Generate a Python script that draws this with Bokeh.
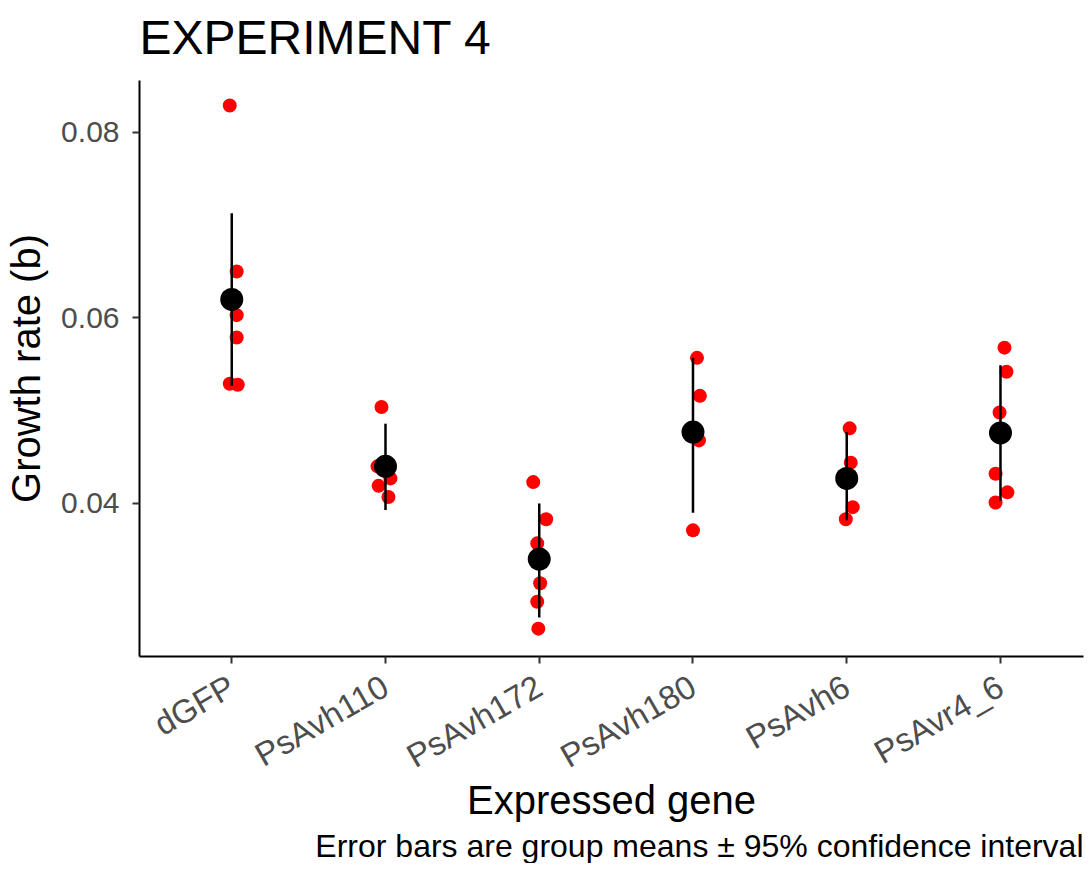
import math
from bokeh.plotting import figure
from bokeh.models import FixedTicker, Title, NumeralTickFormatter, Range1d, ColumnDataSource
from bokeh.embed import file_html
from bokeh.resources import INLINE

# ---------------- data ----------------
genes = ["dGFP", "PsAvh110", "PsAvh172", "PsAvh180", "PsAvh6", "PsAvr4_6"]

dGFP = [0.0829, 0.0650, 0.0603, 0.0579, 0.0529, 0.0528]
PsAvh110 = [0.0504, 0.0440, 0.0427, 0.0419, 0.0407]
PsAvh172 = [0.0423, 0.0383, 0.0357, 0.0314, 0.0294, 0.0265]
PsAvh180 = [0.0557, 0.0516, 0.0468, 0.0371]
PsAvh6 = [0.0481, 0.0444, 0.0396, 0.0383]
PsAvr4_6 = [0.0568, 0.0542, 0.0498, 0.0432, 0.0412, 0.0401]

# horizontal jitter of each observation (category units), as seen in the picture
jit_dGFP = [-0.013, 0.032, 0.032, 0.032, -0.013, 0.039]
jit_PsAvh110 = [-0.026, -0.052, 0.032, -0.045, 0.019]
jit_PsAvh172 = [-0.039, 0.045, -0.013, 0.006, -0.013, -0.006]
jit_PsAvh180 = [0.026, 0.045, 0.039, 0.0]
jit_PsAvh6 = [0.019, 0.026, 0.039, -0.006]
jit_PsAvr4_6 = [0.026, 0.039, -0.006, -0.032, 0.045, -0.032]

means = [0.0620, 0.0440, 0.0340, 0.0477, 0.0427, 0.0476]
ci_low = [0.0527, 0.0393, 0.0277, 0.0390, 0.0382, 0.0403]
ci_high = [0.0713, 0.0486, 0.0400, 0.0557, 0.0477, 0.0549]

y_ticks = [0.04, 0.06, 0.08]

# ---------------- build sources ----------------
groups = [dGFP, PsAvh110, PsAvh172, PsAvh180, PsAvh6, PsAvr4_6]
jitters = [jit_dGFP, jit_PsAvh110, jit_PsAvh172, jit_PsAvh180, jit_PsAvh6, jit_PsAvr4_6]
px, py = [], []
for i, (vals, jit) in enumerate(zip(groups, jitters)):
    for v, j in zip(vals, jit):
        px.append(i + j)
        py.append(v)
pts = ColumnDataSource(dict(x=px, y=py))
idx = list(range(len(genes)))
summ = ColumnDataSource(dict(x=idx, m=means, lo=ci_low, hi=ci_high))

FONT = "Liberation Sans"

p = figure(width=1084, height=863, output_backend="svg", toolbar_location=None,
           x_range=Range1d(-0.6, len(genes) - 0.46), y_range=Range1d(0.0235, 0.0856),
           min_border_left=139, min_border_right=1, min_border_top=80, min_border_bottom=207,
           title_location=None)

# spacer between the frame and the title (keeps the title a bit higher)
spacer = Title(text=" ", text_font_size="1px", standoff=14)
p.add_layout(spacer, "above")
main_title = Title(text="EXPERIMENT 4", align="left", text_font=FONT, text_font_size="48px",
                   text_font_style="normal", text_color="black", standoff=0)
p.add_layout(main_title, "above")

p.xgrid.visible = False
p.ygrid.visible = False
p.outline_line_color = None
p.background_fill_color = "white"
p.border_fill_color = "white"

# observations
p.scatter("x", "y", source=pts, size=14, color="red", line_color=None)
# confidence intervals
p.segment(x0="x", y0="lo", x1="x", y1="hi", source=summ, line_color="black", line_width=2.5)
# means
p.scatter("x", "m", source=summ, size=23, color="black", line_color=None)

for ax in (p.xaxis[0], p.yaxis[0]):
    ax.axis_line_color = "black"
    ax.axis_line_width = 2
    ax.major_tick_line_color = "#333333"
    ax.major_tick_line_width = 2
    ax.major_tick_in = 0
    ax.major_tick_out = 7
    ax.minor_tick_line_color = None
    ax.major_label_text_font = FONT
    ax.major_label_text_font_size = "30px"
    ax.major_label_text_color = "#4d4d4d"
    ax.axis_label_text_font = FONT
    ax.axis_label_text_font_size = "40px"
    ax.axis_label_text_font_style = "normal"
    ax.axis_label_text_color = "black"

p.xaxis.ticker = FixedTicker(ticks=idx)
p.xaxis.major_label_overrides = {i: g for i, g in enumerate(genes)}
p.xaxis.major_label_orientation = math.pi / 6
p.xaxis.major_label_text_font_size = "33px"
p.xaxis.major_label_standoff = 20
p.xaxis.axis_label = "Expressed gene"
p.xaxis.axis_label_standoff = -15

p.yaxis.ticker = FixedTicker(ticks=y_ticks)
p.yaxis.formatter = NumeralTickFormatter(format="0.00")
p.yaxis.major_label_standoff = 13
p.yaxis.axis_label = "Growth rate (b)"
p.yaxis.axis_label_standoff = 10

caption = Title(text="Error bars are group means \u00b1 95% confidence interval", align="right",
                text_font=FONT, text_font_size="32px", text_font_style="normal", text_color="black",
                standoff=0)
p.add_layout(caption, "below")

open("out.html", "w").write(file_html(p, INLINE))
